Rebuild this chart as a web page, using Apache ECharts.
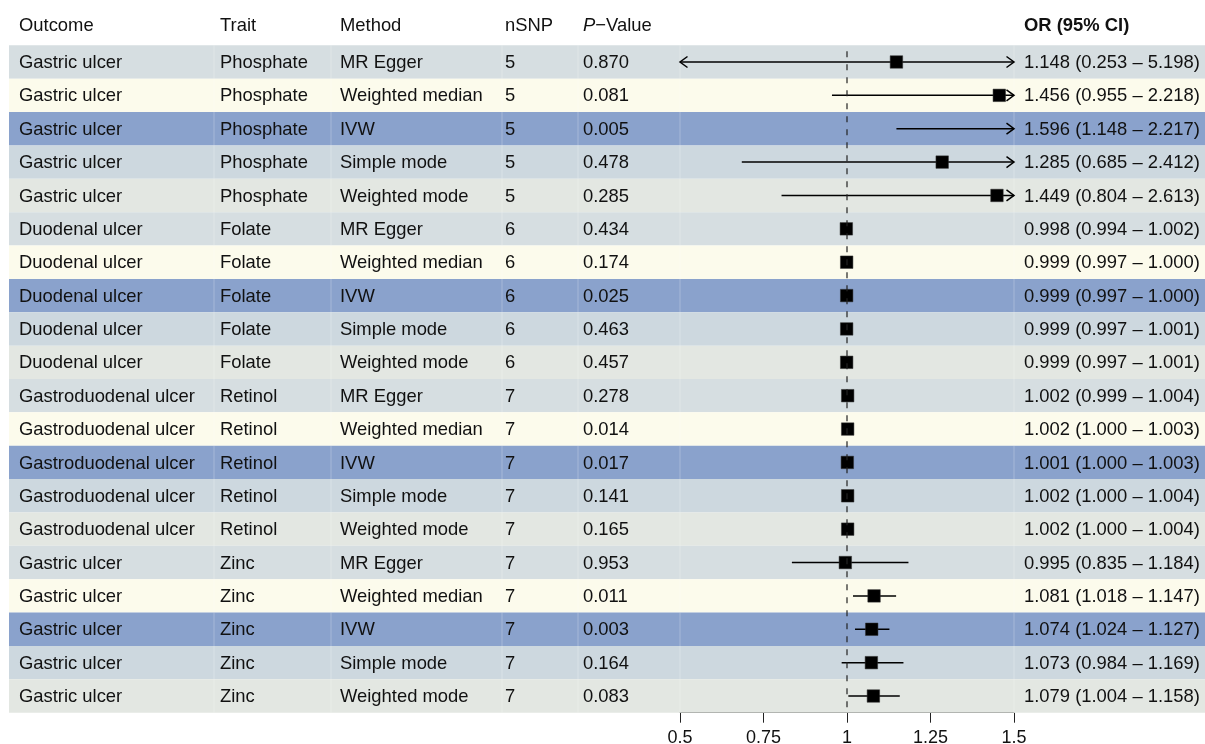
<!DOCTYPE html>
<html>
<head>
<meta charset="utf-8">
<title>Forest plot</title>
<script src="https://cdn.jsdelivr.net/npm/echarts@6/dist/echarts.min.js"></script>
<style>
  html, body { margin: 0; padding: 0; background: #ffffff; }
  #chart { width: 1205px; height: 744px; }
</style>
</head>
<body>
<div id="chart"></div>
<script>
// ---- study rows ----
const outcomes = [
  'Gastric ulcer', 'Gastric ulcer', 'Gastric ulcer', 'Gastric ulcer', 'Gastric ulcer',
  'Duodenal ulcer', 'Duodenal ulcer', 'Duodenal ulcer', 'Duodenal ulcer', 'Duodenal ulcer',
  'Gastroduodenal ulcer', 'Gastroduodenal ulcer', 'Gastroduodenal ulcer', 'Gastroduodenal ulcer', 'Gastroduodenal ulcer',
  'Gastric ulcer', 'Gastric ulcer', 'Gastric ulcer', 'Gastric ulcer', 'Gastric ulcer'
];
const traits = [
  'Phosphate', 'Phosphate', 'Phosphate', 'Phosphate', 'Phosphate',
  'Folate', 'Folate', 'Folate', 'Folate', 'Folate',
  'Retinol', 'Retinol', 'Retinol', 'Retinol', 'Retinol',
  'Zinc', 'Zinc', 'Zinc', 'Zinc', 'Zinc'
];
const methods = [
  'MR Egger', 'Weighted median', 'IVW', 'Simple mode', 'Weighted mode',
  'MR Egger', 'Weighted median', 'IVW', 'Simple mode', 'Weighted mode',
  'MR Egger', 'Weighted median', 'IVW', 'Simple mode', 'Weighted mode',
  'MR Egger', 'Weighted median', 'IVW', 'Simple mode', 'Weighted mode'
];
const nSNP = [5, 5, 5, 5, 5, 6, 6, 6, 6, 6, 7, 7, 7, 7, 7, 7, 7, 7, 7, 7];
const pValues = [
  0.870, 0.081, 0.005, 0.478, 0.285,
  0.434, 0.174, 0.025, 0.463, 0.457,
  0.278, 0.014, 0.017, 0.141, 0.165,
  0.953, 0.011, 0.003, 0.164, 0.083
];
const oddsRatio = [
  1.148, 1.456, 1.596, 1.285, 1.449,
  0.998, 0.999, 0.999, 0.999, 0.999,
  1.002, 1.002, 1.001, 1.002, 1.002,
  0.995, 1.081, 1.074, 1.073, 1.079
];
const ciLower = [
  0.253, 0.955, 1.148, 0.685, 0.804,
  0.994, 0.997, 0.997, 0.997, 0.997,
  0.999, 1.000, 1.000, 1.000, 1.000,
  0.835, 1.018, 1.024, 0.984, 1.004
];
const ciUpper = [
  5.198, 2.218, 2.217, 2.412, 2.613,
  1.002, 1.000, 1.000, 1.001, 1.001,
  1.004, 1.003, 1.003, 1.004, 1.004,
  1.184, 1.147, 1.127, 1.169, 1.158
];
const xTicks = [0.5, 0.75, 1, 1.25, 1.5];
const refValue = 1;
const headers = ['Outcome', 'Trait', 'Method', 'nSNP', '{it|P}\u2212Value', '{b|OR (95% CI)}'];

// ---- layout & style ----
const FONT = '"Liberation Sans", Arial, Helvetica, sans-serif';
const FS = 18.4;
const TEXT = '#111111';
const TABLE_LEFT = 9;
const TABLE_RIGHT = 1205;
const colX = [19, 220, 340, 505, 583, 1024];   // left edge of each text column
const dividers = [214, 331, 502, 578, 680, 1014];
const rowFills = ['#d6dee1', '#fcfbec', '#8aa2cc', '#cdd8df', '#e3e7e2'];
const xMin = xTicks[0];
const xMax = xTicks[xTicks.length - 1];
const xStep = xTicks[1] - xTicks[0];

const rowIdx = outcomes.map((_, i) => i);
const fmt3 = v => v.toFixed(3);
const ciText = rowIdx.map(i => `${fmt3(oddsRatio[i])} (${fmt3(ciLower[i])} \u2013 ${fmt3(ciUpper[i])})`);
const cellText = rowIdx.map(i => [
  outcomes[i], traits[i], methods[i], String(nSNP[i]), fmt3(pValues[i]), ciText[i]
]);

const chart = echarts.init(document.getElementById('chart'), null, { renderer: 'canvas' });

const option = {
  animation: false,
  backgroundColor: '#ffffff',
  textStyle: { fontFamily: FONT },
  grid: {
    left: 680, top: 45.3, width: 334, height: 667.4,
    containLabel: false,
    outerBoundsMode: 'none'
  },
  xAxis: {
    type: 'value',
    min: xMin,
    max: xMax,
    interval: xStep,
    position: 'bottom',
    axisLine: { show: true, onZero: false, lineStyle: { color: '#222', width: 1 } },
    axisTick: { show: true, inside: false, length: 10, lineStyle: { color: '#222', width: 1 } },
    axisLabel: { show: true, margin: 16, fontSize: 18, color: TEXT, fontFamily: FONT },
    splitLine: { show: false }
  },
  yAxis: {
    type: 'category',
    data: rowIdx.map(String),
    inverse: true,
    show: false
  },
  graphic: headers.map((h, k) => ({
    type: 'text',
    left: colX[k],
    top: 17,
    silent: true,
    style: {
      text: h,
      fill: TEXT,
      font: `${FS}px ${FONT}`,
      rich: {
        it: { fontStyle: 'italic', fontSize: FS, fontFamily: FONT, fill: TEXT },
        b: { fontWeight: 'bold', fontSize: FS, fontFamily: FONT, fill: TEXT }
      }
    }
  })),
  series: [
    {
      // striped table rows with their text cells
      type: 'custom',
      name: 'rows',
      z: 1,
      silent: true,
      clip: false,
      encode: { y: 0 },
      data: rowIdx.map(i => [i]),
      renderItem(params, api) {
        const i = api.value(0);
        const c = api.coord([xMin, i]);
        const h = api.size([0, 1])[1];
        const top = c[1] - h / 2;
        const children = [{
          type: 'rect',
          shape: { x: TABLE_LEFT, y: top, width: TABLE_RIGHT - TABLE_LEFT, height: h },
          style: { fill: rowFills[i % rowFills.length] }
        }];
        dividers.forEach(x => children.push({
          type: 'line',
          shape: { x1: x, y1: top, x2: x, y2: top + h },
          style: { stroke: 'rgba(255,255,255,0.25)', lineWidth: 1 }
        }));
        cellText[i].forEach((t, k) => children.push({
          type: 'text',
          x: colX[k],
          y: c[1] + 1,
          style: {
            text: t,
            fill: TEXT,
            font: `${FS}px ${FONT}`,
            textAlign: 'left',
            textVerticalAlign: 'middle'
          }
        }));
        return { type: 'group', children };
      }
    },
    {
      // confidence intervals, with arrows where they run past the axis
      type: 'custom',
      name: 'ci',
      z: 3,
      silent: true,
      clip: false,
      encode: { x: [0, 1], y: 2 },
      data: rowIdx.map(i => [ciLower[i], ciUpper[i], i]),
      renderItem(params, api) {
        const lo = api.value(0), hi = api.value(1), i = api.value(2);
        const a = api.coord([Math.max(lo, xMin), i]);
        const b = api.coord([Math.min(hi, xMax), i]);
        const y = a[1];
        const st = { stroke: '#000', lineWidth: 1.5, fill: 'none' };
        const children = [{ type: 'line', shape: { x1: a[0], y1: y, x2: b[0], y2: y }, style: st }];
        const al = 7.5, aw = 5.5;
        if (lo < xMin) {
          children.push({ type: 'polyline', shape: { points: [[a[0] + al, y - aw], [a[0], y], [a[0] + al, y + aw]] }, style: st });
        }
        if (hi > xMax) {
          children.push({ type: 'polyline', shape: { points: [[b[0] - al, y - aw], [b[0], y], [b[0] - al, y + aw]] }, style: st });
        }
        return { type: 'group', children };
      }
    },
    {
      // point estimates
      type: 'scatter',
      name: 'OR',
      z: 4,
      silent: true,
      clip: true,
      symbol: 'rect',
      symbolSize: 12.5,
      itemStyle: { color: '#000', borderColor: '#333', borderWidth: 0.5, opacity: 1 },
      data: rowIdx.map(i => [oddsRatio[i], i])
    },
    {
      // null-effect reference line
      type: 'custom',
      name: 'ref',
      z: 5,
      silent: true,
      clip: false,
      encode: { x: 0 },
      data: [[refValue]],
      renderItem(params, api) {
        const x = api.coord([api.value(0), 0])[0];
        const cs = params.coordSys;
        return {
          type: 'line',
          shape: { x1: x, y1: cs.y, x2: x, y2: cs.y + cs.height },
          style: { stroke: '#222', lineWidth: 1.2, lineDash: [6, 7], lineDashOffset: 7 }
        };
      }
    }
  ]
};

chart.setOption(option);
</script>
</body>
</html>
